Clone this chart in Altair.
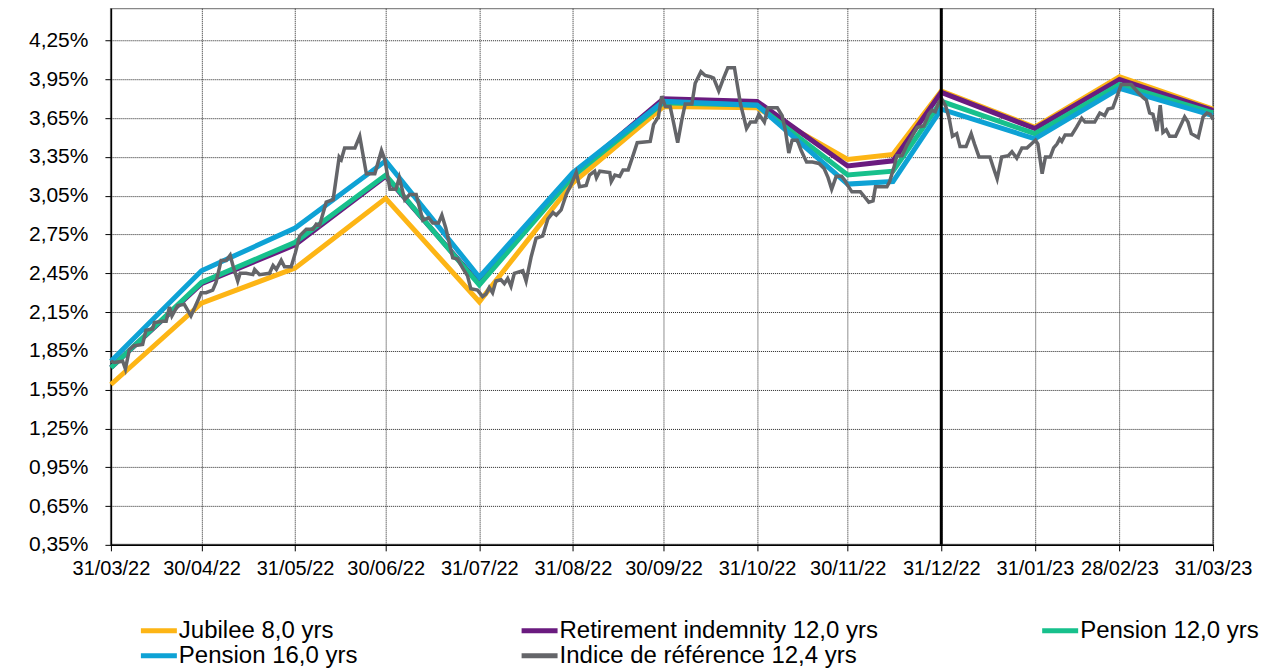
import pandas as pd
import altair as alt

# month-end points of the four curves (plus one mid-December point)
curve_dates = ["2022-03-31", "2022-04-30", "2022-05-31", "2022-06-30", "2022-07-31",
               "2022-08-31", "2022-09-30", "2022-10-31", "2022-11-30", "2022-12-15",
               "2022-12-31", "2023-01-31", "2023-02-28", "2023-03-31"]

jubilee = [1.59, 2.22, 2.49, 3.03, 2.23, 3.15, 3.74, 3.73, 3.33, 3.37, 3.86, 3.58, 3.97, 3.72]
retirement = [1.72, 2.37, 2.67, 3.20, 2.37, 3.21, 3.80, 3.78, 3.28, 3.32, 3.85, 3.57, 3.95, 3.71]
pension_12 = [1.72, 2.38, 2.69, 3.21, 2.36, 3.20, 3.77, 3.75, 3.21, 3.24, 3.78, 3.53, 3.91, 3.69]
pension_16 = [1.77, 2.47, 2.80, 3.32, 2.42, 3.23, 3.78, 3.75, 3.14, 3.16, 3.72, 3.49, 3.88, 3.67]

# reference index (days after 31/03/22)
index_days = [0, 1.1, 3.9, 4.8, 6.1, 7.7, 10.5, 11.6, 13.8, 14.4, 17.1, 18.3, 19.4, 20.2, 22.1,
              24.3, 26.5, 28.8, 29.9, 31.5, 33.7, 34.8, 36.5, 38.2, 39.5, 40.4, 42.0, 42.8, 44.8,
              47.0, 47.6, 49.2, 52.5, 53.7, 54.8, 56.4, 57.5, 59.7, 61.1, 62.5, 64.7, 66.9, 68.0,
              69.1, 71.3, 73.6, 75.6, 76.3, 77.4, 80.8, 82.4, 84.6, 87.4, 89.6, 90.7, 92.4, 94.4,
              95.5, 97.3, 98.9, 101.1, 103.3, 105.2, 106.6, 108.5, 109.6, 110.9, 113.2, 114.8,
              116.5, 118.1, 119.2, 121.4, 123.1, 124.2, 125.3, 126.4, 127.5, 129.2, 130.3, 131.4,
              132.5, 133.6, 136.4, 137.5, 139.2, 140.8, 143.0, 144.7, 146.4, 147.5, 149.1, 150.8,
              152.5, 154.1, 155.2, 157.4, 158.5, 160.2, 160.8, 161.9, 165.2, 165.7, 166.9, 168.5,
              169.6, 171.3, 172.9, 174.3, 178.6, 179.7, 181.3, 182.4, 183.6, 185.2, 186.3, 187.7,
              189.1, 190.2, 192.4, 193.5, 195.4, 196.8, 198.5, 199.6, 201.3, 202.9, 204.3, 206.5,
              208.5, 210.5, 211.8, 213.5, 214.6, 216.4, 217.6, 220.7, 222.3, 223.4, 224.5, 225.6,
              227.3, 228.6, 230.4, 232.3, 234.5, 236.2, 237.5, 238.7, 240.2, 242.0, 243.0, 244.0,
              245.4, 248.2, 249.3, 251.0, 252.4, 253.2, 254.8, 257.0, 257.9, 259.2, 260.3, 262.0,
              263.6, 265.3, 267.0, 269.2, 270.8, 271.9, 273.0, 274.1, 275.1, 276.5, 277.6, 278.7,
              280.1, 281.2, 283.2, 284.9, 286.0, 287.5, 289.4, 291.1, 292.2, 293.5, 295.0, 297.2,
              298.4, 300.0, 301.7, 303.4, 304.8, 306.2, 307.0, 308.4, 309.5, 311.1, 312.2, 313.3,
              314.2, 314.9, 316.0, 318.2, 319.8, 321.5, 322.6, 325.8, 327.5, 329.1, 330.2, 331.8,
              332.9, 334.6, 336.2, 337.9, 340.1, 341.8, 342.9, 344.0, 345.1, 346.4, 347.5, 348.4,
              349.5, 350.6, 352.6, 354.0, 355.6, 356.7, 357.8, 360.1, 361.7, 363.0, 364.1, 365.0]
index_vals = [1.77, 1.76, 1.77, 1.71, 1.86, 1.89, 1.90, 2.01, 2.02, 2.07, 2.08, 2.08, 2.19, 2.12, 2.20,
              2.21, 2.12, 2.24, 2.30, 2.30, 2.32, 2.38, 2.55, 2.55, 2.59, 2.51, 2.39, 2.45, 2.45,
              2.44, 2.48, 2.44, 2.45, 2.51, 2.48, 2.55, 2.50, 2.50, 2.61, 2.74, 2.79, 2.79, 2.83,
              2.82, 3.00, 3.02, 3.35, 3.33, 3.42, 3.42, 3.51, 3.22, 3.22, 3.40, 3.33, 3.10, 3.10,
              3.19, 3.02, 3.06, 3.06, 2.86, 2.88, 2.84, 2.84, 2.90, 2.80, 2.57, 2.56,
              2.49, 2.43, 2.33, 2.32, 2.27, 2.29, 2.34, 2.30, 2.39, 2.40, 2.37, 2.41,
              2.35, 2.45, 2.47, 2.39, 2.58, 2.72, 2.74, 2.87, 2.92, 2.90, 2.94, 3.06,
              3.14, 3.23, 3.12, 3.13, 3.21, 3.24, 3.19, 3.24, 3.23, 3.16, 3.21, 3.20,
              3.25, 3.25, 3.36, 3.46, 3.47, 3.60, 3.66, 3.82, 3.74, 3.74, 3.62, 3.46,
              3.64, 3.76, 3.76, 3.92, 4.01, 3.98, 3.97, 3.96, 3.86, 3.96, 4.04, 4.04,
              3.76, 3.57, 3.62, 3.62, 3.68, 3.62, 3.73, 3.73, 3.67, 3.55, 3.38, 3.48,
              3.48, 3.40, 3.31, 3.31, 3.30, 3.26, 3.19, 3.10, 3.20, 3.20, 3.17, 3.13,
              3.08, 3.08, 3.05, 3.00, 3.01, 3.12, 3.12, 3.12, 3.16, 3.26, 3.36, 3.36,
              3.44, 3.51, 3.58, 3.59, 3.68, 3.71, 3.70, 3.77, 3.80, 3.74, 3.65, 3.51,
              3.53, 3.43, 3.43, 3.53, 3.45, 3.35, 3.35, 3.35, 3.27, 3.18, 3.35, 3.36,
              3.39, 3.34, 3.42, 3.42, 3.45, 3.48, 3.45, 3.22, 3.35, 3.35, 3.42, 3.45,
              3.49, 3.47, 3.52, 3.52, 3.58, 3.65, 3.62, 3.62, 3.69, 3.67, 3.72, 3.73,
              3.80, 3.91, 3.91, 3.91, 3.85, 3.81, 3.79, 3.69, 3.68, 3.55, 3.75, 3.54,
              3.56, 3.51, 3.51, 3.58, 3.66, 3.62, 3.53, 3.50, 3.66, 3.69, 3.68, 3.64]

names = ["Jubilee 8,0 yrs", "Retirement indemnity 12,0 yrs", "Pension 12,0 yrs",
         "Pension 16,0 yrs", "Indice de référence 12,4 yrs"]
colors = ["#FDB515", "#6A1B7F", "#17C08C", "#0EA2D5", "#646569"]

tick_dates = ["2022-03-31", "2022-04-30", "2022-05-31", "2022-06-30", "2022-07-31",
              "2022-08-31", "2022-09-30", "2022-10-31", "2022-11-30", "2022-12-31",
              "2023-01-31", "2023-02-28", "2023-03-31"]
y_ticks = [0.35, 0.65, 0.95, 1.25, 1.55, 1.85, 2.15, 2.45, 2.75, 3.05, 3.35, 3.65, 3.95, 4.25]
year_end = "2022-12-31"

epoch = pd.Timestamp("1970-01-01")
start = pd.Timestamp("2022-03-31")


def to_ms(ts):
    return int((pd.Timestamp(ts) - epoch) / pd.Timedelta(milliseconds=1))


rows = []
for name, vals in zip(names[:4], [jubilee, retirement, pension_12, pension_16]):
    for d, v in zip(curve_dates, vals):
        rows.append({"date": to_ms(d), "value": v, "series": name})
for d, v in zip(index_days, index_vals):
    rows.append({"date": to_ms(start + pd.Timedelta(days=d)), "value": v, "series": names[4]})
df = pd.DataFrame(rows)

x_enc = alt.X("date:T",
              scale=alt.Scale(type="utc", domain=[to_ms(tick_dates[0]), to_ms(tick_dates[-1])]),
              axis=alt.Axis(values=[to_ms(t) for t in tick_dates], format="%d/%m/%y", title=None,
                            labelPadding=8, labelFlush=False, labelOverlap=False))
y_enc = alt.Y("value:Q",
              scale=alt.Scale(domain=[0.35, 4.5], nice=False, zero=False),
              axis=alt.Axis(values=y_ticks, title=None, labelPadding=17, labelFlush=False,
                            labelFontSize=21,
                            labelExpr="replace(format(datum.value, '.2f'), '.', ',') + '%'"))
# short legend line: the path runs past the unit box so the rows stay tight
color_enc = alt.Color("series:N", scale=alt.Scale(domain=names, range=colors),
                      legend=alt.Legend(title=None, orient="none", legendX=36, legendY=611,
                                        direction="horizontal", columns=3, columnPadding=154,
                                        rowPadding=1, padding=0,
                                        symbolType="M-3,0H3", symbolSize=144,
                                        symbolStrokeWidth=5, labelOffset=8,
                                        labelFont="Liberation Sans", labelFontSize=24,
                                        labelColor="black", labelLimit=0))

base = alt.Chart(df).encode(x=x_enc, y=y_enc, color=color_enc)

layers = []
for name in names:
    w = 3.5 if name == names[4] else 5
    layers.append(base.transform_filter(alt.datum.series == name).mark_line(strokeWidth=w))

rule = alt.Chart(pd.DataFrame({"date": [to_ms(year_end)]})).mark_rule(
    color="black", strokeWidth=3).encode(x=x_enc)

chart = alt.layer(*layers, rule).properties(
    width=1103, height=537,
    autosize=alt.AutoSizeParams(type="none"),
    padding={"left": 103, "top": 0, "right": 60, "bottom": 124},
).configure_axis(
    labelFont="Liberation Sans", labelFontSize=20, labelColor="black",
    domainColor="black", domainWidth=1.5, tickColor="black", tickSize=6,
    gridColor="#222222", gridDash=[1, 1], gridWidth=1,
).configure_view(stroke="#888888", strokeWidth=2)

chart.save("out.html", embed_options={"renderer": "svg", "actions": False})
